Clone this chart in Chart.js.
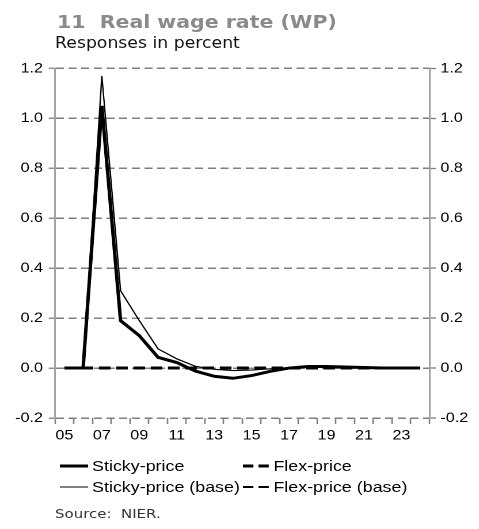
<!DOCTYPE html>
<html>
<head>
<meta charset="utf-8">
<script src="https://cdn.jsdelivr.net/npm/chart.js@4"></script>
<style>
  html, body { margin: 0; padding: 0; background: #fff; overflow: hidden; }
  /* the whole figure is laid out on a 416px-wide sheet and widened to 479px */
  #page { position: relative; width: 416px; height: 529px; transform: scaleX(1.1514); transform-origin: 0 0; }
  .t { position: absolute; white-space: nowrap; line-height: 1; }
  #title { left: 49.5px; top: 11px; font: bold 17.8px 'DejaVu Sans', sans-serif; color: #8a8a8a; }
  #sub { left: 47.8px; top: 34px; font: 15px 'DejaVu Sans', sans-serif; color: #111; }
  #src { left: 47.8px; top: 506px; font: 13px 'DejaVu Sans', sans-serif; color: #333; }
  #chartBox { position: absolute; left: 0; top: 55px; width: 416px; height: 400px; }
  .leg { position: absolute; height: 20px; }
  .leg svg { position: absolute; left: 0; top: 0; }
  .leg span { position: absolute; top: 2px; font: 15.5px 'Liberation Sans', Arial, sans-serif; line-height: 1; color: #000; white-space: nowrap; }
</style>
</head>
<body>
<div id="page">
  <div id="title" class="t">11&nbsp;&nbsp;Real wage rate (WP)</div>
  <div id="sub" class="t">Responses in percent</div>
  <div id="chartBox"><canvas id="c" width="416" height="400"></canvas></div>
  <div id="legend"></div>
  <div id="src" class="t">Source:&nbsp;&nbsp;NIER.</div>
</div>
<script>
// Periods on the horizontal axis (two-digit years)
const periods = ['05','06','07','08','09','10','11','12','13','14','15','16','17','18','19','20','21','22','23','24'];

// Responses in percent
const stickyPrice     = [0, 0, 1.05, 0.19, 0.13, 0.043, 0.022, -0.012, -0.033, -0.041, -0.03, -0.013, 0.0, 0.006, 0.006, 0.004, 0.002, 0.0, 0.0, 0.0];
const stickyPriceBase = [0, 0, 1.17, 0.31, 0.19, 0.077, 0.037, 0.007, -0.005, -0.01, -0.008, -0.003, 0.002, 0.004, 0.004, 0.003, 0.001, 0.0, 0.0, 0.0];
const flexPrice       = [0, 0, 0, 0, 0, 0, 0, 0, 0, 0, 0, 0, 0, 0, 0, 0, 0, 0, 0, 0];
const flexPriceBase   = [0, 0, 0, 0, 0, 0, 0, 0, 0, 0, 0, 0, 0, 0, 0, 0, 0, 0, 0, 0];

// Vertical axis
const yTicks = [-0.2, 0.0, 0.2, 0.4, 0.6, 0.8, 1.0, 1.2];

const seriesNames = ['Sticky-price', 'Flex-price', 'Sticky-price (base)', 'Flex-price (base)'];

const GRID = '#7f7f7f';
const AXIS = '#a3a3a3';

const styles = {
  'Sticky-price':        { width: 3,   dash: [] ,     order: 0 },
  'Sticky-price (base)': { width: 1.2, dash: [],      order: 1 },
  'Flex-price':          { width: 3,   dash: [10, 5], order: 2 },
  'Flex-price (base)':   { width: 2,   dash: [10, 5], order: 3 }
};
const seriesData = {
  'Sticky-price': stickyPrice,
  'Flex-price': flexPrice,
  'Sticky-price (base)': stickyPriceBase,
  'Flex-price (base)': flexPriceBase
};

const datasets = seriesNames.map(name => ({
  label: name,
  data: seriesData[name],
  borderColor: '#000',
  borderWidth: styles[name].width,
  borderDash: styles[name].dash,
  order: styles[name].order,
  pointRadius: 0,
  tension: 0,
  fill: false
}));

Chart.defaults.font.family = "'Liberation Sans', Arial, sans-serif";
Chart.defaults.font.size = 14;
Chart.defaults.color = '#000';

const yCommon = {
  min: yTicks[0],
  max: yTicks[yTicks.length - 1],
  afterBuildTicks: s => { s.ticks = yTicks.map(v => ({ value: v })); },
  ticks: { callback: v => Number(v).toFixed(1), color: '#000', font: { size: 14 } }
};

new Chart(document.getElementById('c'), {
  type: 'line',
  data: { labels: periods, datasets },
  options: {
    responsive: false,
    animation: false,
    devicePixelRatio: 2,
    layout: { padding: { left: 0, right: 0, top: 10, bottom: 7 } },
    plugins: { legend: { display: false }, tooltip: { enabled: false } },
    scales: {
      x: {
        type: 'category',
        offset: true,
        border: { display: false },
        grid: { display: true, drawOnChartArea: false, drawTicks: true, offset: true,
                tickLength: 6, tickColor: GRID, tickWidth: 1.3 },
        ticks: {
          autoSkip: false, maxRotation: 0, padding: 3,
          callback: function (v, i) { return i % 2 === 0 ? this.getLabelForValue(v) : ''; }
        },
        afterFit: s => { s.height = 30; }
      },
      y: Object.assign({}, yCommon, {
        position: 'left',
        border: { display: true, color: AXIS, width: 1.5, dash: [7, 4] },
        grid: { color: GRID, lineWidth: 1.5, drawTicks: true, tickLength: 5.5,
                tickColor: GRID, tickWidth: 1.3, tickBorderDash: [] },
        ticks: Object.assign({}, yCommon.ticks, { padding: 5 }),
        afterFit: s => { s.width = 47.8; }
      }),
      y2: Object.assign({}, yCommon, {
        position: 'right',
        border: { display: true, color: AXIS, width: 1.5 },
        grid: { drawOnChartArea: false, drawTicks: true, tickLength: 5.5,
                tickColor: GRID, tickWidth: 1.3, tickBorderDash: [] },
        ticks: Object.assign({}, yCommon.ticks, { padding: 4 }),
        afterFit: s => { s.width = 43; }
      })
    }
  }
});

// Two-column legend under the chart, built from the dataset styles
const legendSlots = [
  { left: 52,  top: 456 },   // Sticky-price
  { left: 211, top: 456 },   // Flex-price
  { left: 52,  top: 477 },   // Sticky-price (base)
  { left: 211, top: 477 }    // Flex-price (base)
];
const legendEl = document.getElementById('legend');
seriesNames.forEach((name, i) => {
  const st = styles[name];
  const slot = legendSlots[i];
  const item = document.createElement('div');
  item.className = 'leg';
  item.style.left = slot.left + 'px';
  item.style.top = slot.top + 'px';
  const dash = st.dash.length ? ' stroke-dasharray="9 4.5"' : '';
  const sampleW = 24.5;
  item.innerHTML =
    '<svg width="' + sampleW + '" height="20"><line x1="0" y1="10" x2="' + sampleW + '" y2="10" stroke="#000" stroke-width="' +
    st.width + '"' + dash + '/></svg>' +
    '<span style="left:' + (i % 2 === 0 ? 28 : 26.5) + 'px">' + name + '</span>';
  legendEl.appendChild(item);
});
</script>
</body>
</html>
